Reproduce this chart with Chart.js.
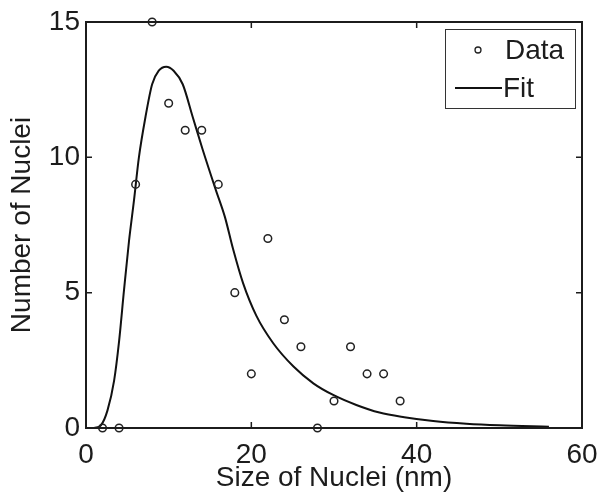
<!DOCTYPE html>
<html>
<head>
<meta charset="utf-8">
<script src="https://cdn.jsdelivr.net/npm/chart.js@4.4.1/dist/chart.umd.min.js"></script>
<style>
  html, body { margin: 0; padding: 0; background: #fff; }
  #wrap { width: 599px; height: 492px; }
</style>
</head>
<body>
<div id="wrap"><canvas id="myChart" width="599" height="492"></canvas></div>
<script>
// measured points (size in nm, count)
const sizeX = [2, 4, 6, 8, 10, 12, 14, 16, 18, 20, 22, 24, 26, 28, 30, 32, 34, 36, 38]
const countY = [0, 0, 9, 15, 12, 11, 11, 9, 5, 2, 7, 4, 3, 0, 1, 3, 2, 2, 1]

// fitted curve
const fitX = [1, 1.8, 2.6, 3.4, 4.0, 4.6, 5.2, 5.8, 6.4, 7.2, 8.0, 8.8, 9.7, 10.6, 11.7, 12.9, 14.1, 15.7, 16.8, 17.8, 19.0, 20.6, 22.65, 25.1, 27.5, 29.9, 32.7, 35.5, 38.5, 42, 46, 50, 56]
const fitY = [0, 0.1, 0.65, 1.75, 3.2, 5.1, 6.9, 8.4, 10.0, 11.5, 12.7, 13.2, 13.35, 13.2, 12.7, 11.5, 10.3, 8.8, 7.8, 6.6, 5.35, 4.15, 3.13, 2.27, 1.65, 1.22, 0.85, 0.57, 0.4, 0.26, 0.16, 0.1, 0.05]

const xTicks = [0, 20, 40, 60]
const yTicks = [0, 5, 10, 15]

const FONT = '"Liberation Sans", Arial, Helvetica, sans-serif'
const INK = '#1c1c1c'

// MATLAB-like box with inward ticks on all four sides
const boxPlugin = {
  id: 'box',
  afterDatasetsDraw(chart){
    const {ctx, chartArea: a, scales: {x, y}} = chart
    const len = 6
    ctx.save()
    ctx.strokeStyle = INK
    ctx.lineWidth = 1.5
    ctx.beginPath()
    xTicks.forEach(v => {
      const px = x.getPixelForValue(v)
      ctx.moveTo(px, a.bottom); ctx.lineTo(px, a.bottom - len)
      ctx.moveTo(px, a.top); ctx.lineTo(px, a.top + len)
    })
    yTicks.forEach(v => {
      const py = y.getPixelForValue(v)
      ctx.moveTo(a.left, py); ctx.lineTo(a.left + len, py)
      ctx.moveTo(a.right, py); ctx.lineTo(a.right - len, py)
    })
    ctx.stroke()
    ctx.lineWidth = 2
    ctx.strokeRect(a.left, a.top, a.right - a.left, a.bottom - a.top)
    ctx.restore()
  }
}

// legend drawn inside the plot, top right
const legendBox = {
  id: 'legendBox',
  afterDraw(chart){
    const {ctx, chartArea: a} = chart
    const w = 130, h = 79
    const left = a.right - 7 - w, top = a.top + 7
    ctx.save()
    ctx.fillStyle = '#fff'
    ctx.fillRect(left, top, w, h)
    ctx.strokeStyle = '#333'
    ctx.lineWidth = 1
    ctx.strokeRect(left + 0.5, top + 0.5, w, h)
    ctx.font = '28px ' + FONT
    ctx.fillStyle = INK
    ctx.textBaseline = 'middle'
    const ds = chart.data.datasets
    // Data row
    ctx.beginPath()
    ctx.arc(left + 33, top + 21, 3, 0, Math.PI * 2)
    ctx.lineWidth = 1.3
    ctx.strokeStyle = ds[0].borderColor
    ctx.stroke()
    ctx.fillText(ds[0].label, left + 60, top + 22)
    // Fit row
    ctx.beginPath()
    ctx.moveTo(left + 10, top + 59)
    ctx.lineTo(left + 57, top + 59)
    ctx.lineWidth = 2
    ctx.strokeStyle = ds[1].borderColor
    ctx.stroke()
    ctx.fillText(ds[1].label, left + 58, top + 60)
    ctx.restore()
  }
}

const ctx = document.getElementById('myChart')

new Chart(ctx, {
  type: 'scatter',
  data: {
    datasets: [{
      label: 'Data',
      data: sizeX.map((v, i) => ({x: v, y: countY[i]})),
      pointRadius: 3.8,
      pointBorderWidth: 1.5,
      pointBackgroundColor: 'rgba(0,0,0,0)',
      borderColor: '#222',
      clip: false,
      order: 0
    }, {
      type: 'line',
      label: 'Fit',
      data: fitX.map((v, i) => ({x: v, y: fitY[i]})),
      borderColor: '#111',
      borderWidth: 2,
      pointRadius: 0,
      cubicInterpolationMode: 'monotone',
      fill: false,
      order: 1
    }]
  },
  options: {
    responsive: false,
    animation: false,
    layout: { padding: { top: 22, right: 17, left: 0, bottom: 0 } },
    plugins: {
      legend: { display: false },
      tooltip: { enabled: false }
    },
    scales: {
      x: {
        type: 'linear',
        min: 0, max: 60,
        afterBuildTicks: s => { s.ticks = xTicks.map(v => ({value: v})) },
        afterFit: s => { s.height = 64; s.paddingLeft = 0; s.paddingRight = 0 },
        grid: { display: false, drawTicks: false },
        border: { display: false },
        ticks: { padding: 10, color: INK, font: { family: FONT, size: 28 } },
        title: {
          display: true,
          text: 'Size of Nuclei (nm)',
          color: INK,
          padding: 0,
          font: { family: FONT, size: 28, lineHeight: 1 }
        }
      },
      y: {
        type: 'linear',
        min: 0, max: 15,
        afterBuildTicks: s => { s.ticks = yTicks.map(v => ({value: v})) },
        afterFit: s => { s.width = 86; s.paddingTop = 0; s.paddingBottom = 0 },
        grid: { display: false, drawTicks: false },
        border: { display: false },
        ticks: { padding: 6, color: INK, font: { family: FONT, size: 28 } },
        title: {
          display: true,
          text: 'Number of Nuclei',
          color: INK,
          padding: { top: 5, bottom: 0 },
          font: { family: FONT, size: 28, lineHeight: 1.2 }
        }
      }
    }
  },
  plugins: [boxPlugin, legendBox]
})
</script>
</body>
</html>
